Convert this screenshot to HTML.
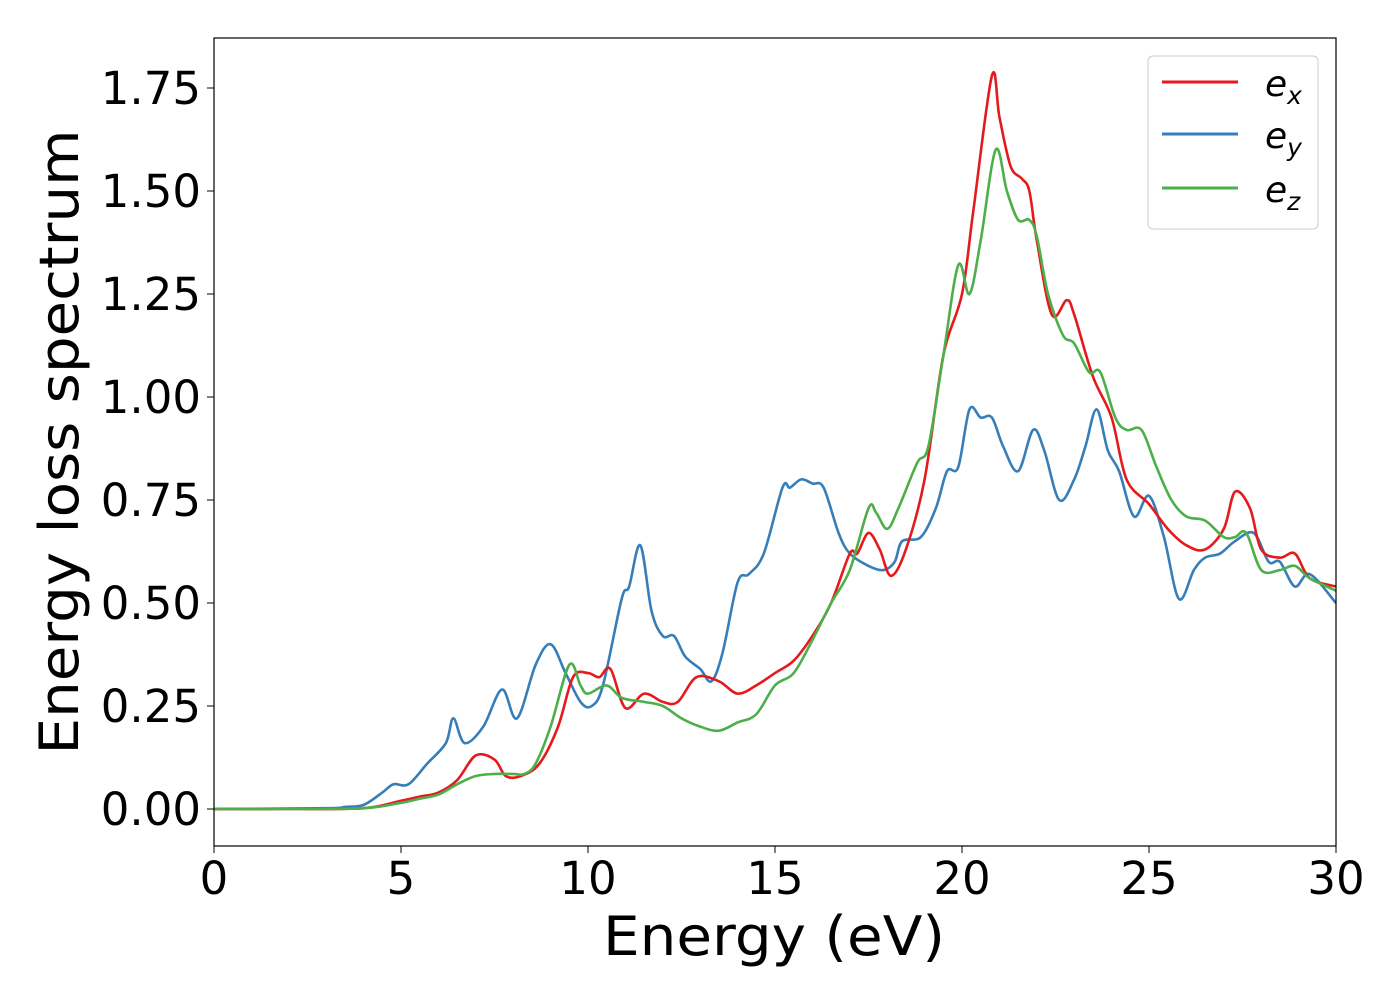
<!DOCTYPE html>
<html><head><meta charset="utf-8"><style>
body{margin:0;background:#fff}
svg{display:block;font-family:"DejaVu Sans","Liberation Sans",sans-serif}
</style></head><body>
<svg id="chart" width="1400" height="1000" viewBox="0 0 1400 1000" xmlns="http://www.w3.org/2000/svg">
<rect width="1400" height="1000" fill="#fff"/>
<g id="series" clip-path="url(#clip)"></g>
<defs><clipPath id="clip"><rect x="214" y="38" width="1122" height="808"/></clipPath></defs>
<rect x="214" y="38" width="1122" height="808" fill="none" stroke="#000" stroke-width="1.2"/>
<g id="ticks"></g>
<text x="774" y="955" font-size="54" text-anchor="middle" textLength="342" lengthAdjust="spacingAndGlyphs">Energy (eV)</text>
<text transform="translate(78,442) rotate(-90)" font-size="54" text-anchor="middle" textLength="625" lengthAdjust="spacingAndGlyphs">Energy loss spectrum</text>
<g>
<rect x="1148" y="56" width="170" height="173" rx="5" fill="#fff" stroke="#ccc" stroke-width="1"/>
<line x1="1162" y1="82" x2="1238" y2="82" stroke="#e41a1c" stroke-width="3"/>
<text x="1265" y="96" font-size="36" font-style="italic">e<tspan font-size="25" dy="8">x</tspan></text>
<line x1="1162" y1="134" x2="1238" y2="134" stroke="#377eb8" stroke-width="3"/>
<text x="1265" y="148" font-size="36" font-style="italic">e<tspan font-size="25" dy="8">y</tspan></text>
<line x1="1162" y1="188" x2="1238" y2="188" stroke="#4daf4a" stroke-width="3"/>
<text x="1265" y="202" font-size="36" font-style="italic">e<tspan font-size="25" dy="8">z</tspan></text>
</g>
</svg>
<script>
const xTicks=[0,5,10,15,20,25,30];
const yTicks=[0,0.25,0.5,0.75,1.0,1.25,1.5,1.75];
const yTickLabels=["0.00","0.25","0.50","0.75","1.00","1.25","1.50","1.75"];
const exE=[0,2,4,5,5.5,6,6.5,7,7.5,7.8,8.2,8.7,9.2,9.6,10,10.3,10.6,11,11.5,12,12.4,12.9,13.5,14,14.5,15,15.5,16,16.5,17,17.2,17.5,17.8,18.1,18.5,19,19.5,20,20.3,20.8,21,21.3,21.6,21.8,22,22.4,22.8,23,23.5,24,24.4,25,25.5,26,26.5,27,27.3,27.7,28,28.5,28.9,29.3,30];
const exV=[0,0,0.002,0.02,0.03,0.04,0.07,0.13,0.12,0.08,0.08,0.11,0.2,0.32,0.33,0.32,0.34,0.245,0.28,0.26,0.26,0.32,0.31,0.28,0.3,0.33,0.36,0.42,0.5,0.62,0.62,0.67,0.63,0.566,0.63,0.8,1.1,1.25,1.45,1.78,1.68,1.56,1.53,1.5,1.38,1.2,1.235,1.2,1.05,0.95,0.8,0.74,0.68,0.64,0.63,0.68,0.77,0.73,0.63,0.61,0.62,0.56,0.54];
const eyE=[0,3,3.5,4,4.5,4.8,5.2,5.7,6.2,6.4,6.7,7.2,7.7,8.1,8.6,9,9.4,9.8,10.1,10.4,10.9,11.1,11.4,11.7,12,12.3,12.6,13,13.3,13.6,14,14.3,14.7,15.2,15.4,15.7,16,16.3,16.7,17,17.5,17.9,18.2,18.4,18.9,19.3,19.6,19.9,20.2,20.5,20.8,21.1,21.5,21.9,22.2,22.6,23,23.3,23.6,23.9,24.2,24.6,25,25.4,25.8,26.2,26.5,26.9,27.3,27.8,28.2,28.5,28.9,29.3,30];
const eyV=[0,0.002,0.005,0.01,0.04,0.06,0.06,0.11,0.16,0.22,0.16,0.2,0.29,0.22,0.35,0.4,0.33,0.26,0.25,0.3,0.51,0.54,0.64,0.48,0.42,0.42,0.37,0.34,0.31,0.38,0.55,0.57,0.62,0.78,0.78,0.8,0.79,0.78,0.67,0.62,0.59,0.58,0.6,0.65,0.66,0.73,0.82,0.83,0.97,0.95,0.95,0.88,0.82,0.92,0.87,0.75,0.8,0.88,0.97,0.87,0.82,0.71,0.76,0.66,0.51,0.58,0.61,0.62,0.65,0.67,0.6,0.6,0.54,0.57,0.5];
const ezE=[0,2,4,5,5.5,6,6.5,7,7.5,8,8.3,8.6,9,9.5,9.8,10,10.5,10.9,11.5,12,12.5,13,13.5,14,14.5,15,15.5,16,16.5,17,17.5,17.7,18,18.3,18.8,19.1,19.5,19.9,20.2,20.5,20.9,21.2,21.5,21.8,22,22.3,22.7,23,23.4,23.7,24.1,24.4,24.8,25.2,25.6,26,26.5,27,27.3,27.6,28,28.5,28.9,29.3,30];
const ezV=[0,0,0.002,0.015,0.025,0.035,0.06,0.08,0.085,0.085,0.085,0.11,0.2,0.35,0.3,0.28,0.3,0.27,0.26,0.25,0.22,0.2,0.19,0.21,0.23,0.3,0.33,0.41,0.5,0.58,0.73,0.72,0.68,0.73,0.84,0.88,1.1,1.32,1.25,1.38,1.6,1.5,1.43,1.43,1.39,1.25,1.15,1.13,1.06,1.06,0.95,0.92,0.92,0.83,0.75,0.71,0.7,0.66,0.66,0.67,0.58,0.58,0.59,0.56,0.53];
const NS="http://www.w3.org/2000/svg";
function sx(e){return 214+e*1122/30;}
function sy(v){return 809-v*412;}
const tk=document.getElementById('ticks');
xTicks.forEach(t=>{
  const l=document.createElementNS(NS,'line');
  
  
  l.setAttribute('x1',sx(t));l.setAttribute('x2',sx(t));l.setAttribute('y1',846);l.setAttribute('y2',853);l.setAttribute('stroke','#000');
  tk.appendChild(l);
  const tx=document.createElementNS(NS,'text');
  
  
  tx.setAttribute('x',sx(t));tx.setAttribute('y',894);tx.setAttribute('font-size','45');tx.setAttribute('text-anchor','middle');
  tx.textContent=t;tk.appendChild(tx);
});
yTicks.forEach((t,i)=>{
  const l=document.createElementNS(NS,'line');
  
  
  l.setAttribute('x1',207);l.setAttribute('x2',214);l.setAttribute('y1',sy(t));l.setAttribute('y2',sy(t));l.setAttribute('stroke','#000');
  tk.appendChild(l);
  const tx=document.createElementNS(NS,'text');
  
  
  tx.setAttribute('x',201);tx.setAttribute('y',sy(t)+16);tx.setAttribute('font-size','45');tx.setAttribute('text-anchor','end');
  tx.textContent=yTickLabels[i];tk.appendChild(tx);
});
function path(E,V){
  const p=E.map((e,i)=>[sx(e),sy(V[i])]);
  let d='M'+p[0][0]+','+p[0][1];
  for(let i=0;i<p.length-1;i++){
    const p0=p[Math.max(0,i-1)],p1=p[i],p2=p[i+1],p3=p[Math.min(p.length-1,i+2)];
    const c1=[p1[0]+(p2[0]-p0[0])/6,p1[1]+(p2[1]-p0[1])/6];
    const c2=[p2[0]-(p3[0]-p1[0])/6,p2[1]-(p3[1]-p1[1])/6];
    d+=` C${c1[0]},${c1[1]} ${c2[0]},${c2[1]} ${p2[0]},${p2[1]}`;
  }
  return d;
}
const sg=document.getElementById('series');
[[eyE,eyV,'#377eb8','series-ey'],[exE,exV,'#e41a1c','series-ex'],[ezE,ezV,'#4daf4a','series-ez']].forEach(s=>{
  const el=document.createElementNS(NS,'path');
  
  
  el.setAttribute('d',path(s[0],s[1]));el.setAttribute('fill','none');el.setAttribute('stroke',s[2]);el.setAttribute('stroke-width','2.6');
  sg.appendChild(el);
});
</script>
</body></html>
